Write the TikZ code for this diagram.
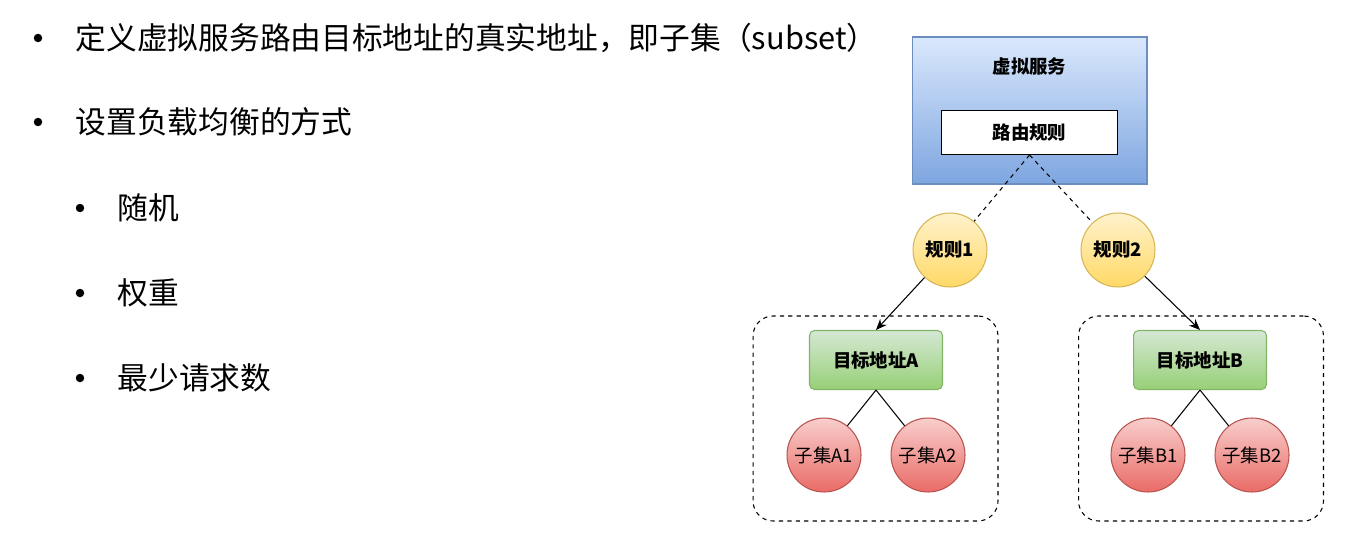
\documentclass[tikz,border=0pt]{standalone}
\usepackage{fontspec}
\setmainfont{Noto Sans CJK SC}
\usetikzlibrary{positioning,arrows.meta}

\definecolor{blueTop}{HTML}{DAE8FC}
\definecolor{blueBot}{HTML}{7EA6E0}
\definecolor{blueLine}{HTML}{6C8EBF}
\definecolor{yelTop}{HTML}{FFF2CC}
\definecolor{yelBot}{HTML}{FFD966}
\definecolor{yelLine}{HTML}{D6B656}
\definecolor{grnTop}{HTML}{D5E8D4}
\definecolor{grnBot}{HTML}{97D077}
\definecolor{grnLine}{HTML}{82B366}
\definecolor{redTop}{HTML}{F8CECC}
\definecolor{redBot}{HTML}{EA6B66}
\definecolor{redLine}{HTML}{B85450}

\begin{document}
\begin{tikzpicture}[x=0.02cm, y=-0.02cm, line width=0.6pt,
    item/.style={anchor=west, inner sep=0pt, font=\fontsize{17.5pt}{20pt}\selectfont},
    dot/.style={circle, fill=black, inner sep=0pt, minimum size=0.17cm},
    small/.style={font=\fontsize{10.5pt}{12pt}\selectfont},
    svcbox/.style={draw=blueLine, top color=blueTop, bottom color=blueBot, minimum width=4.7cm, minimum height=2.94cm},
    rulebox/.style={draw, fill=white, font=\fontsize{10.5pt}{12pt}\selectfont\bfseries, minimum width=3.52cm, minimum height=0.88cm},
    rulenode/.style={circle, draw=yelLine, top color=yelTop, bottom color=yelBot, minimum size=1.48cm, inner sep=0pt, font=\fontsize{10.5pt}{12pt}\selectfont\bfseries},
    group/.style={draw, dash pattern=on 2.4pt off 2.4pt, rounded corners=0.4cm, minimum width=4.9cm, minimum height=4.1cm},
    target/.style={draw=grnLine, top color=grnTop, bottom color=grnBot, rounded corners=0.1cm, minimum width=2.66cm, minimum height=1.18cm, font=\fontsize{10.5pt}{12pt}\selectfont\bfseries},
    subset/.style={circle, draw=redLine, top color=redTop, bottom color=redBot, minimum size=1.48cm, inner sep=0pt, small}
  ]
  \useasboundingbox (0,0) rectangle (1362,544);

  % Bullet list
  \node (d1) [dot] at (38, 38) {};
  \node (t1) [item] at (75, 38) {定义虚拟服务路由目标地址的真实地址，即子集（subset）};
  \node (d2) [dot] at (38, 122) {};
  \node (t2) [item] at (75, 122) {设置负载均衡的方式};
  \foreach \y/\txt [count=\i] in {208/随机, 293/权重, 378/最少请求数} {
      \node (sd\i) [dot] at (80, \y) {};
      \node (st\i) [item] at (117, \y) {\txt};
    }

  % Virtual service
  \node (vs) [svcbox] at (1029.5, 110.5) {};
  \node (vsTitle) [font=\fontsize{10.5pt}{12pt}\selectfont\bfseries] at (1029.5, 67) {虚拟服务};
  \node (rule) [rulebox] at (1029.5, 132.5) {路由规则};

  % Rules
  \node (r1) [rulenode] at (950, 250) {规则1};
  \node (r2) [rulenode] at (1118, 250) {规则2};
  \draw[dash pattern=on 2.4pt off 2.4pt] (rule.south) -- (r1);
  \draw[dash pattern=on 2.4pt off 2.4pt] (rule.south) -- (r2);

  % Target groups
  \node (grpA) [group] at (875.5, 418.5) {};
  \node (grpB) [group] at (1201, 418.5) {};
  \node (tA) [target] at (876, 360) {目标地址A};
  \node (tB) [target] at (1200, 360) {目标地址B};
  \draw[-{Stealth[length=2.2mm, width=1.8mm]}] (r1) -- (tA.north);
  \draw[-{Stealth[length=2.2mm, width=1.8mm]}] (r2) -- (tB.north);

  % Subsets
  \foreach \g/\n/\x in {A/1/824, A/2/928, B/1/1148, B/2/1252} {
      \node (s\g\n) [subset] at (\x, 455) {子集\g\n};
      \draw (t\g.south) -- (s\g\n);
    }
\end{tikzpicture}
\end{document}
